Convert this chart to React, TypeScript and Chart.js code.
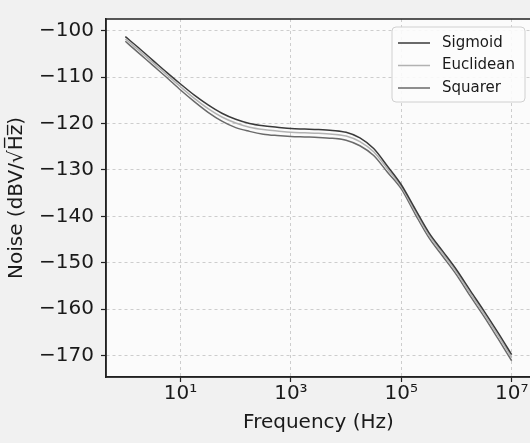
import React, { useEffect, useRef } from 'react';
import { Chart, registerables } from 'chart.js';

Chart.register(...registerables);

// Frequency points (Hz)
const frequencies = [
  1, 1.78, 3.16, 5.62, 10, 17.8, 31.6, 56.2, 100, 178, 316, 562, 1000, 1780, 3160, 5620,
  1e4, 1.78e4, 3.16e4, 5.62e4, 1e5, 1.78e5, 3.16e5, 5.62e5, 1e6, 1.78e6, 3.16e6, 5.62e6, 1e7,
];

// Noise (dBV/sqrt(Hz)) for each series
const sigmoid = [
  -101.3, -103.8, -106.4, -109.0, -111.5, -113.9, -116.0, -117.8, -119.1, -120.0, -120.5, -120.8,
  -121.1, -121.2, -121.3, -121.5, -121.9, -123.1, -125.4, -129.2, -133.2, -138.4, -143.5, -147.5,
  -151.5, -156.0, -160.4, -165.0, -169.8,
];
const euclidean = [
  -101.8, -104.3, -106.9, -109.5, -112.1, -114.6, -116.8, -118.6, -119.9, -120.8, -121.3, -121.6,
  -121.9, -122.0, -122.1, -122.3, -122.7, -123.9, -126.1, -129.8, -133.6, -138.9, -144.0, -148.0,
  -152.0, -156.6, -161.0, -165.6, -170.4,
];
const squarer = [
  -102.3, -104.9, -107.5, -110.1, -112.8, -115.3, -117.6, -119.5, -120.9, -121.7, -122.3, -122.6,
  -122.8, -122.9, -123.0, -123.2, -123.6, -124.8, -126.9, -130.5, -134.1, -139.5, -144.6, -148.6,
  -152.6, -157.2, -161.6, -166.3, -171.1,
];

const seriesLabels = ['Sigmoid', 'Euclidean', 'Squarer'];
const seriesColors = ['#3a3a3a', '#b2b2b2', '#6a6a6a'];

const xTickValues = [10, 1e3, 1e5, 1e7];
const xTickLabels = ['10¹', '10³', '10⁵', '10⁷'];
const yTickValues = [-100, -110, -120, -130, -140, -150, -160, -170];
const yTickLabels = ['−100', '−110', '−120', '−130', '−140', '−150', '−160', '−170'];

const FONT = '"DejaVu Sans", sans-serif';

const backgroundPlugin = {
  id: 'bgPlugin',
  beforeDraw(chart: any) {
    const { ctx, chartArea, width, height } = chart;
    ctx.save();
    ctx.fillStyle = '#f1f1f1';
    ctx.fillRect(0, 0, width, height);
    ctx.fillStyle = '#fbfbfb';
    ctx.fillRect(chartArea.left, chartArea.top, chartArea.right - chartArea.left, chartArea.bottom - chartArea.top);
    ctx.restore();
  },
  afterDatasetsDraw(chart: any) {
    const { ctx, chartArea } = chart;
    ctx.save();
    ctx.strokeStyle = '#222';
    ctx.lineWidth = 1.5;
    ctx.strokeRect(chartArea.left, chartArea.top, chartArea.right - chartArea.left, chartArea.bottom - chartArea.top);
    ctx.restore();
  },
};

const legendPlugin = {
  id: 'boxLegend',
  afterDraw(chart: any) {
    const { ctx, chartArea } = chart;
    const boxW = 133;
    const boxH = 75;
    const left = chartArea.right - 6 - boxW;
    const top = chartArea.top + 8;
    ctx.save();
    ctx.beginPath();
    ctx.roundRect(left, top, boxW, boxH, 4);
    ctx.fillStyle = 'rgba(252,252,252,0.9)';
    ctx.fill();
    ctx.strokeStyle = '#d0d0d0';
    ctx.lineWidth = 1;
    ctx.stroke();
    chart.data.datasets.forEach((ds: any, i: number) => {
      const y = top + 16 + i * 22.5;
      ctx.beginPath();
      ctx.moveTo(left + 6, y);
      ctx.lineTo(left + 38, y);
      ctx.strokeStyle = ds.borderColor;
      ctx.lineWidth = 1.5;
      ctx.stroke();
      ctx.fillStyle = '#1a1a1a';
      ctx.font = `15px ${FONT}`;
      ctx.textBaseline = 'middle';
      ctx.textAlign = 'left';
      ctx.fillText(ds.label, left + 50, y);
    });
    ctx.restore();
  },
};

export default function App() {
  const canvasRef = useRef<HTMLCanvasElement | null>(null);

  useEffect(() => {
    document.body.style.margin = '0';
    document.body.style.background = '#f1f1f1';
    const canvas = canvasRef.current;
    if (!canvas) return;
    const seriesValues = [sigmoid, euclidean, squarer];
    const chart = new Chart(canvas, {
      type: 'line',
      data: {
        datasets: seriesLabels.map((label, i) => ({
          label,
          data: frequencies.map((f, j) => ({ x: f, y: seriesValues[i][j] })),
          borderColor: seriesColors[i],
          backgroundColor: seriesColors[i],
          borderWidth: 1.5,
          pointRadius: 0,
          fill: false,
          cubicInterpolationMode: 'monotone',
        })),
      },
      options: {
        animation: false,
        responsive: false,
        devicePixelRatio: 1,
        layout: { padding: { top: 3, right: 9, left: 0, bottom: 0 } },
        plugins: {
          legend: { display: false },
          tooltip: { enabled: false },
        },
        scales: {
          x: {
            type: 'logarithmic',
            min: Math.pow(10, -0.35),
            max: Math.pow(10, 7.35),
            afterBuildTicks: (scale: any) => {
              scale.ticks = xTickValues.map((v) => ({ value: v }));
            },
            afterFit: (scale: any) => {
              scale.height = 66;
            },
            ticks: {
              autoSkip: false,
              maxRotation: 0,
              padding: 0,
              color: '#1a1a1a',
              font: { family: FONT, size: 20 },
              callback: (_v: any, i: number) => xTickLabels[i],
            },
            grid: {
              color: '#cdcdcd',
              lineWidth: 1,
              tickColor: '#222',
              tickLength: 5,
              tickWidth: 1.2,
            },
            border: { display: true, color: '#222', width: 1.5, dash: [3, 3] },
            title: {
              display: true,
              text: 'Frequency (Hz)',
              color: '#1a1a1a',
              font: { family: FONT, size: 20 },
              padding: { top: 0, bottom: 8 },
            },
          },
          y: {
            type: 'linear',
            min: -174.6,
            max: -97.5,
            afterBuildTicks: (scale: any) => {
              scale.ticks = yTickValues.map((v) => ({ value: v }));
            },
            afterFit: (scale: any) => {
              scale.width = 106;
            },
            ticks: {
              autoSkip: false,
              padding: 7,
              color: '#1a1a1a',
              font: { family: FONT, size: 20 },
              callback: (_v: any, i: number) => yTickLabels[i],
            },
            grid: {
              color: '#cdcdcd',
              lineWidth: 1,
              tickColor: '#222',
              tickLength: 5,
              tickWidth: 1.2,
            },
            border: { display: true, color: '#222', width: 1.5, dash: [3, 3] },
            title: {
              display: true,
              text: 'Noise (dBV/√H̅z̅)',
              color: '#1a1a1a',
              font: { family: FONT, size: 20 },
              padding: { top: 5, bottom: 0 },
            },
          },
        },
      },
      plugins: [backgroundPlugin, legendPlugin],
    } as any);
    return () => chart.destroy();
  }, []);

  return (
    <div style={{ width: 530, height: 443, overflow: 'hidden', position: 'relative' }}>
      <canvas ref={canvasRef} width={540} height={443} style={{ width: 540, height: 443, display: 'block' }} />
    </div>
  );
}
